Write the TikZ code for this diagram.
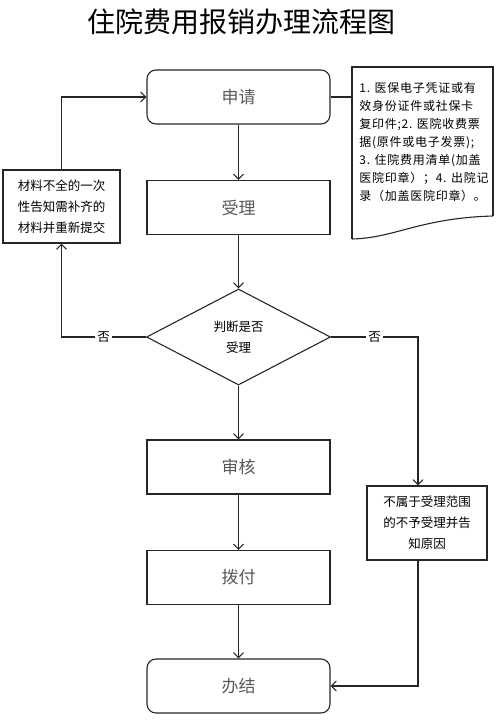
\documentclass[tikz,border=0pt]{standalone}
\usepackage{fontspec}
\setmainfont{Noto Sans CJK SC}
\newfontfamily\spacedfont[LetterSpace=6]{Noto Sans CJK SC}
\usetikzlibrary{calc,shapes.geometric,arrows.meta}
\newcommand{\docsheet}[1]{
\coordinate (dtl) at (#1);
\draw[line width=1.1pt,black!85] ($(dtl)+(0,172)$) -- (dtl) -- ($(dtl)+(141,0)$) -- ($(dtl)+(141,149)$);
\draw[line width=1.1pt,black!85] ($(dtl)+(0,172)$)
   .. controls ($(dtl)+(43,171)$) and ($(dtl)+(68,151)$)
   .. ($(dtl)+(141,149)$);
}

\begin{document}
\begin{tikzpicture}[x=1pt,y=-1pt,
stepbox/.style={draw=black!85,line width=1.1pt,minimum width=183pt,minimum height=54pt,inner sep=0pt,text=black!65,font=\fontsize{17}{20}\selectfont},
endbox/.style={stepbox,rounded corners=9pt},
decision/.style={draw=black!85,line width=1.1pt,diamond,aspect=1.9,minimum width=184pt,minimum height=96pt,inner sep=0pt,align=center,font=\fontsize{12.5}{21}\selectfont},
sidebox/.style={draw=black!85,line width=1.1pt,align=center,inner sep=0pt,font=\fontsize{12.5}{21}\selectfont},
flow/.style={draw=black!85,line width=1.1pt,-{Straight Barb[length=5pt,width=10pt]}},
fou/.style={fill=white,inner sep=2pt,font=\fontsize{12.5}{14}\selectfont}]
\useasboundingbox (0,0) rectangle (500,725);
\node (title) at (241,22) {\fontsize{28}{30}\selectfont 住院费用报销办理流程图};
\node[endbox] (shenqing) at (238.5,97) {申请};
\node[stepbox] (shouli) at (238.5,207.5) {受理};
\node[decision] (panduan) at (238.5,337) {判断是否\\受理};
\node[stepbox] (shenhe) at (238.5,467) {审核};
\node[stepbox] (bofu) at (238.5,577.5) {拨付};
\node[endbox] (banjie) at (238.5,686) {办结};
\node[sidebox,minimum width=117pt,minimum height=73pt] (buquan) at (61.5,206.5) {材料不全的一次\\性告知需补齐的\\材料并重新提交};
\node[sidebox,minimum width=120pt,minimum height=74pt] (bushu) at (427,523) {不属于受理范围\\的不予受理并告\\知原因};
% required papers
\docsheet{352,67}
\node[align=left,inner sep=0pt,font=\spacedfont\fontsize{12}{18}\selectfont] (cailiao) at (424,142.5) {1. 医保电子凭证或有\\效身份证件或社保卡\\复印件;2. 医院收费票\\据(原件或电子发票);\\3. 住院费用清单(加盖\\医院印章）；4. 出院记\\录（加盖医院印章）。};
\coordinate (docl) at (352,97);
\draw[line width=1.1pt,black!85] (shenqing.east) -- (docl);
% main line
\draw[flow] (shenqing) -- (shouli);
\draw[flow] (shouli) -- (panduan);
\draw[flow] (panduan) -- (shenhe);
\draw[flow] (shenhe) -- (bofu);
\draw[flow] (bofu) -- (banjie);
% not accepted
\draw[flow] (panduan.west) -- node[fou]{否} (panduan.west -| buquan.south) -- (buquan.south);
\draw[flow] (buquan.north) |- (shenqing.west);
\coordinate (rt) at (418,0);
\draw[flow] (panduan.east) -- node[fou]{否} (panduan.east -| rt) -- (rt |- bushu.north);
\draw[flow] (rt |- bushu.south) |- (banjie.east);
\end{tikzpicture}
\end{document}
